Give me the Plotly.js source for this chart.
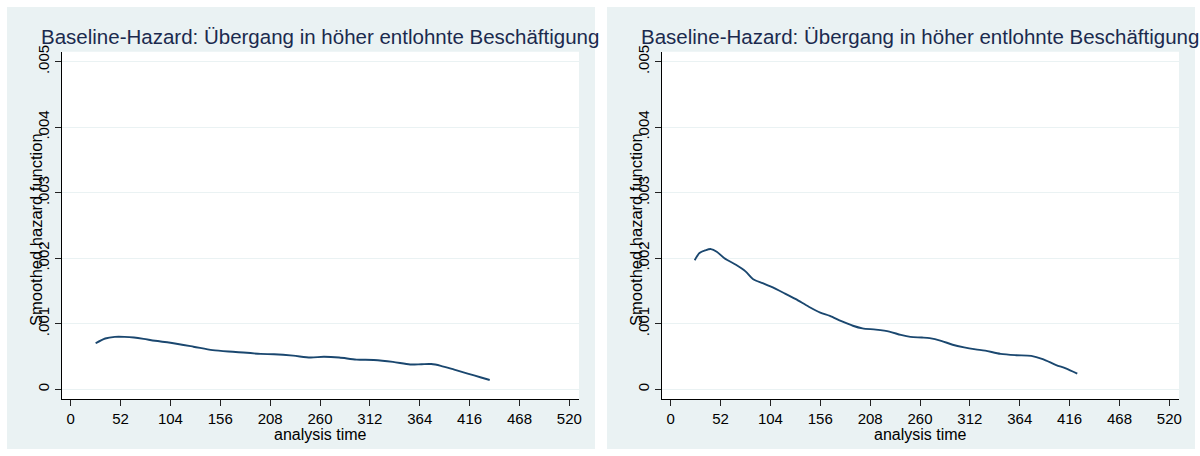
<!DOCTYPE html>
<html>
<head>
<meta charset="utf-8">
<script src="https://cdn.plot.ly/plotly-3.0.1.min.js"></script>
<style>
  html, body { margin: 0; padding: 0; background: #ffffff; }
  #chart { width: 1200px; height: 456px; }
</style>
</head>
<body>
<div id="chart"></div>
<script>
// Smoothed baseline hazard, transition into higher-paid employment (two models)
const titleText = 'Baseline-Hazard: Übergang in höher entlohnte Beschäftigung';
const yTitleText = 'Smoothed hazard function';
const xTitleText = 'analysis time';

const xTicks = [0, 52, 104, 156, 208, 260, 312, 364, 416, 468, 520];
const yTicks = [0, 0.001, 0.002, 0.003, 0.004, 0.005];
const yTickLabels = ['0', '.001', '.002', '.003', '.004', '.005'];

// Left panel: analysis time (weeks) and smoothed hazard
const timeLeft = [26, 36, 46, 56, 66, 76, 88, 104, 128, 148, 172, 198, 212, 232, 250, 264, 280, 298, 316, 336, 354, 366, 376, 386, 400, 414, 428, 437];
const hazardLeft = [0.000702, 0.000775, 0.000800, 0.000800, 0.000790, 0.000770, 0.000740, 0.000710, 0.000650, 0.000597, 0.000570, 0.000540, 0.000534, 0.000513, 0.000485, 0.000497, 0.000485, 0.000453, 0.000447, 0.000418, 0.000378, 0.000383, 0.000385, 0.000358, 0.000300, 0.000240, 0.000180, 0.000142];

// Right panel
const timeRight = [25, 30, 36, 42, 48, 56, 68, 78, 86, 96, 104, 118, 130, 144, 156, 166, 178, 190, 200, 214, 228, 240, 250, 262, 270, 282, 294, 306, 318, 328, 344, 360, 376, 388, 402, 412, 424];
const hazardRight = [0.00197, 0.00208, 0.00212, 0.00214, 0.00210, 0.00200, 0.00190, 0.00180, 0.00168, 0.00162, 0.00157, 0.00147, 0.00138, 0.00126, 0.00117, 0.00112, 0.00104, 0.00097, 0.00093, 0.00091, 0.00088, 0.00083, 0.00080, 0.00079, 0.00078, 0.00074, 0.00068, 0.00064, 0.00061, 0.00059, 0.00054, 0.00052, 0.00051, 0.00046, 0.00037, 0.00032, 0.00024];

const W = 1200, H = 456;
const FONT = 'Arial, "Liberation Sans", Helvetica, sans-serif';
const panelBg = '#eaf2f3';
const lineColor = '#1a476f';
const titleColor = '#1b2a4e';

// pixel helpers for paper-space layout
const px = v => v / W;
const py = v => 1 - v / H;

const yDomain = [py(399.3), py(51.7)];

function xAxis(domain, anchor) {
  return {
    domain: domain, anchor: anchor,
    range: [-9.4, 530.1],
    tickmode: 'array', tickvals: xTicks, ticktext: xTicks.map(String),
    ticks: 'outside', ticklen: 6, tickwidth: 1, tickcolor: '#222',
    showline: true, linecolor: '#000', linewidth: 1,
    showgrid: false, zeroline: false,
    tickfont: { family: FONT, size: 15, color: '#000' },
    fixedrange: true
  };
}
function yAxis(anchor) {
  return {
    domain: yDomain, anchor: anchor,
    range: [-0.000153, 0.005153],
    tickmode: 'array', tickvals: yTicks, ticktext: yTickLabels,
    tickangle: -90,
    ticks: 'outside', ticklen: 6, tickwidth: 1, tickcolor: '#222',
    showline: true, linecolor: '#000', linewidth: 1,
    showgrid: true, gridcolor: panelBg, gridwidth: 1,
    zeroline: false,
    tickfont: { family: FONT, size: 15, color: '#000' },
    fixedrange: true
  };
}

const traces = [
  { x: timeLeft, y: hazardLeft, xaxis: 'x', yaxis: 'y', type: 'scatter', mode: 'lines',
    line: { color: lineColor, width: 1.9, shape: 'spline', smoothing: 0.8 }, hoverinfo: 'skip' },
  { x: timeRight, y: hazardRight, xaxis: 'x2', yaxis: 'y2', type: 'scatter', mode: 'lines',
    line: { color: lineColor, width: 1.9, shape: 'spline', smoothing: 0.8 }, hoverinfo: 'skip' }
];

function panelShapes(xref, yref, left) {
  return [
    { type: 'rect', xref: 'paper', yref: 'paper', layer: 'below',
      x0: px(left), x1: px(left + 588), y0: py(449), y1: py(7),
      fillcolor: panelBg, line: { width: 0 } },
    { type: 'rect', xref: xref + ' domain', yref: yref + ' domain', layer: 'below',
      x0: 0, x1: 1, y0: 0, y1: 1, fillcolor: '#ffffff', line: { width: 0 } }
  ];
}

function panelAnnotations(xref, yTitleX) {
  return [
    { text: titleText, xref: xref + ' domain', yref: 'paper', x: 0.5, y: py(37),
      xanchor: 'center', yanchor: 'middle', showarrow: false,
      font: { family: FONT, size: 20.5, color: titleColor } },
    { text: yTitleText, xref: 'paper', yref: 'paper', x: px(yTitleX), y: py(230),
      xanchor: 'center', yanchor: 'middle', textangle: -90, showarrow: false,
      font: { family: FONT, size: 16.5, color: '#000' } },
    { text: xTitleText, xref: xref + ' domain', yref: 'paper', x: 0.5, y: py(434),
      xanchor: 'center', yanchor: 'middle', showarrow: false,
      font: { family: FONT, size: 16, color: '#000' } }
  ];
}

const layout = {
  width: W, height: H,
  margin: { l: 0, r: 0, t: 0, b: 0, pad: 0 },
  paper_bgcolor: '#ffffff',
  plot_bgcolor: 'rgba(0,0,0,0)',
  showlegend: false,
  xaxis: xAxis([px(61.7), px(579)], 'y'),
  yaxis: yAxis('x'),
  xaxis2: xAxis([px(661.7), px(1179)], 'y2'),
  yaxis2: yAxis('x2'),
  shapes: panelShapes('x', 'y', 7).concat(panelShapes('x2', 'y2', 607)),
  annotations: panelAnnotations('x', 36).concat(panelAnnotations('x2', 636))
};

Plotly.newPlot('chart', traces, layout, { staticPlot: true, displayModeBar: false });
</script>
</body>
</html>
